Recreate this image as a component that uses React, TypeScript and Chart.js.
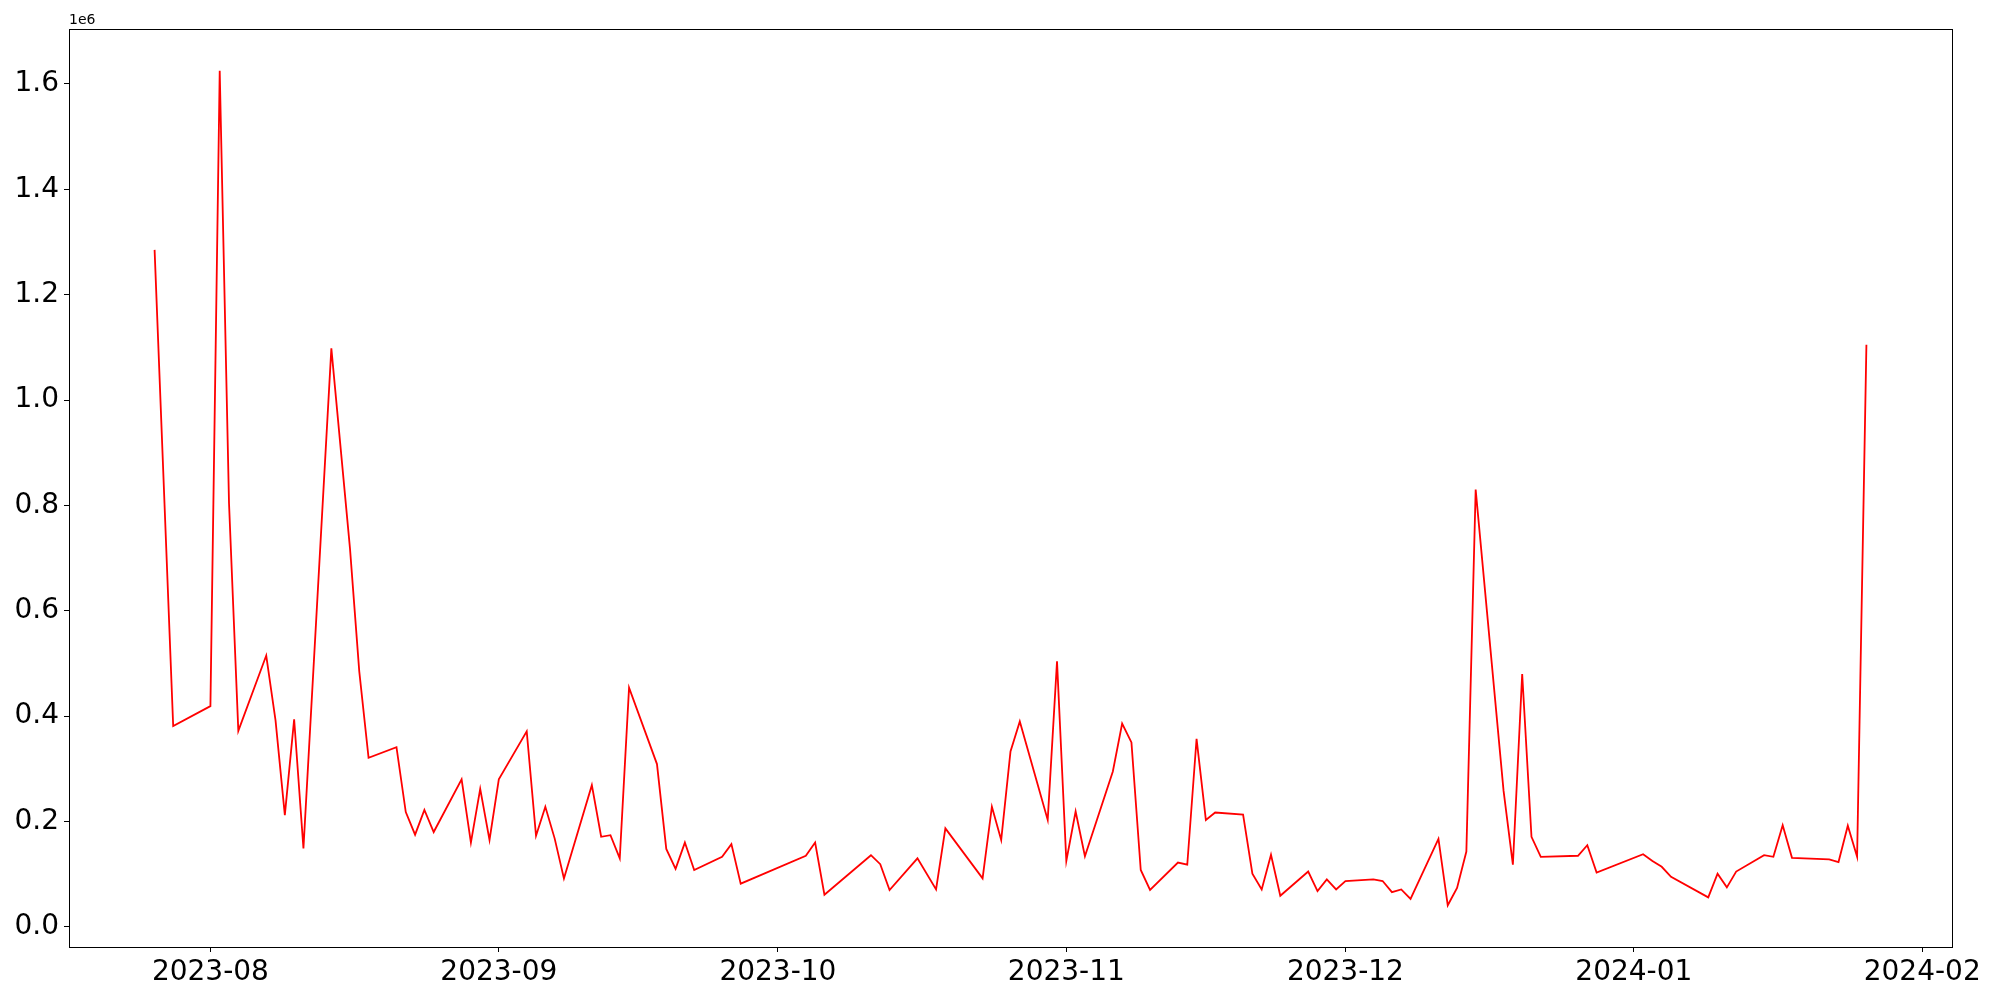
import React, { useEffect, useRef } from "react";
import { Chart, registerables } from "chart.js";

Chart.register(...registerables);

const dates: string[] = [
  "2023-07-26", "2023-07-28", "2023-08-01", "2023-08-02", "2023-08-03", "2023-08-04",
  "2023-08-07", "2023-08-08", "2023-08-09", "2023-08-10", "2023-08-11",
  "2023-08-14", "2023-08-16", "2023-08-17", "2023-08-18",
  "2023-08-21", "2023-08-22", "2023-08-23", "2023-08-24", "2023-08-25",
  "2023-08-28", "2023-08-29", "2023-08-30", "2023-08-31", "2023-09-01",
  "2023-09-04", "2023-09-05", "2023-09-06", "2023-09-07", "2023-09-08",
  "2023-09-11", "2023-09-12", "2023-09-13", "2023-09-14", "2023-09-15",
  "2023-09-18", "2023-09-19", "2023-09-20", "2023-09-21", "2023-09-22",
  "2023-09-25", "2023-09-26", "2023-09-27",
  "2023-10-04", "2023-10-05", "2023-10-06",
  "2023-10-11", "2023-10-12", "2023-10-13",
  "2023-10-16", "2023-10-18", "2023-10-19",
  "2023-10-23", "2023-10-24", "2023-10-25", "2023-10-26", "2023-10-27",
  "2023-10-30", "2023-10-31", "2023-11-01", "2023-11-02", "2023-11-03",
  "2023-11-06", "2023-11-07", "2023-11-08", "2023-11-09", "2023-11-10",
  "2023-11-13", "2023-11-14", "2023-11-15", "2023-11-16", "2023-11-17",
  "2023-11-20", "2023-11-21", "2023-11-22", "2023-11-23", "2023-11-24",
  "2023-11-27", "2023-11-28", "2023-11-29", "2023-11-30", "2023-12-01",
  "2023-12-04", "2023-12-05", "2023-12-06", "2023-12-07", "2023-12-08",
  "2023-12-11", "2023-12-12", "2023-12-13", "2023-12-14", "2023-12-15",
  "2023-12-18", "2023-12-19", "2023-12-20", "2023-12-21", "2023-12-22",
  "2023-12-26", "2023-12-27", "2023-12-28",
  "2024-01-02", "2024-01-03", "2024-01-04", "2024-01-05",
  "2024-01-09", "2024-01-10", "2024-01-11", "2024-01-12",
  "2024-01-15", "2024-01-16", "2024-01-17", "2024-01-18",
  "2024-01-22", "2024-01-23", "2024-01-24", "2024-01-25", "2024-01-26",
];

const values: number[] = [
  1285000, 381000, 419000, 1625000, 804000, 372000,
  515000, 392000, 212000, 394000, 149000,
  1098000, 719000, 485000, 321000,
  341000, 218000, 175000, 222000, 180000,
  280000, 160000, 262000, 165000, 280000,
  371000, 173000, 228000, 168000, 92000,
  269000, 171000, 174000, 130000, 454000,
  309000, 148000, 110000, 160000, 108000,
  133000, 157000, 82000,
  135000, 160000, 61000,
  136000, 119000, 70000,
  130000, 71000, 187000,
  92000, 228000, 165000, 333000, 390000,
  203000, 504000, 125000, 219000, 134000,
  295000, 386000, 350000, 108000, 70000,
  122000, 118000, 357000, 203000, 217000,
  213000, 101000, 71000, 137000, 59000,
  105000, 68000, 90000, 71000, 87000,
  90000, 87000, 66000, 71000, 53000,
  167000, 41000, 74000, 143000, 830000,
  258000, 118000, 480000, 171000, 133000,
  135000, 155000, 103000,
  138000, 125000, 114000, 95000,
  56000, 101000, 75000, 105000,
  136000, 133000, 193000, 131000,
  128000, 123000, 192000, 133000, 1105000,
];

const xTickLabels: string[] = ["2023-08", "2023-09", "2023-10", "2023-11", "2023-12", "2024-01", "2024-02"];
const yTickValues: number[] = [0, 200000, 400000, 600000, 800000, 1000000, 1200000, 1400000, 1600000];

const toTs = (s: string): number => {
  const p = s.split("-").map(Number);
  return Date.UTC(p[0], p[1] - 1, p.length > 2 ? p[2] : 1);
};

export default function App() {
  const ref = useRef<HTMLCanvasElement | null>(null);

  useEffect(() => {
    if (!ref.current) return;
    const pts = dates.map((d, i) => ({ x: toTs(d), y: values[i] }));
    const xs = pts.map((p) => p.x);
    const xmin0 = Math.min(...xs);
    const xmax0 = Math.max(...xs);
    const xm = (xmax0 - xmin0) * 0.05;
    const ymin0 = Math.min(...values);
    const ymax0 = Math.max(...values);
    const ym = (ymax0 - ymin0) * 0.05;

    const framePlugin = {
      id: "frame",
      afterDraw(chart: any) {
        const { ctx, chartArea } = chart;
        ctx.save();
        ctx.strokeStyle = "#000";
        ctx.lineWidth = 1;
        ctx.strokeRect(
          Math.round(chartArea.left) + 0.5,
          Math.round(chartArea.top) + 0.5,
          Math.round(chartArea.right - chartArea.left),
          Math.round(chartArea.bottom - chartArea.top)
        );
        ctx.fillStyle = "#000";
        ctx.font = "14px 'DejaVu Sans'";
        ctx.textAlign = "left";
        ctx.textBaseline = "alphabetic";
        ctx.fillText("1e6", chartArea.left, chartArea.top - 5);
        ctx.restore();
      },
    };

    const chart = new Chart(ref.current, {
      type: "line",
      data: {
        datasets: [
          {
            data: pts,
            borderColor: "#ff0000",
            borderWidth: 1.8,
            pointRadius: 0,
            tension: 0,
            fill: false,
          },
        ],
      },
      options: {
        animation: false,
        responsive: false,
        devicePixelRatio: 1,
        layout: { padding: { top: 29, right: 48, left: 0, bottom: 0 } },
        plugins: { legend: { display: false }, tooltip: { enabled: false } },
        scales: {
          x: {
            type: "linear",
            min: xmin0 - xm,
            max: xmax0 + xm,
            afterFit: (s: any) => {
              s.height = 53;
            },
            afterBuildTicks: (s: any) => {
              s.ticks = xTickLabels.map((l) => ({ value: toTs(l) }));
            },
            grid: {
              display: true,
              drawOnChartArea: false,
              drawTicks: true,
              tickLength: 5,
              color: "#000",
            },
            border: { display: true, color: "#000", width: 1 },
            ticks: {
              color: "#000",
              padding: 4,
              maxRotation: 0,
              autoSkip: false,
              font: { family: "'DejaVu Sans'", size: 28 },
              callback: (v: any) => {
                const d = new Date(Number(v));
                const m = d.getUTCMonth() + 1;
                return `${d.getUTCFullYear()}-${m < 10 ? "0" + m : m}`;
              },
            },
          },
          y: {
            type: "linear",
            min: ymin0 - ym,
            max: ymax0 + ym,
            afterFit: (s: any) => {
              s.width = 69;
            },
            afterBuildTicks: (s: any) => {
              s.ticks = yTickValues.map((v) => ({ value: v }));
            },
            grid: {
              display: true,
              drawOnChartArea: false,
              drawTicks: true,
              tickLength: 5,
              color: "#000",
            },
            border: { display: true, color: "#000", width: 1 },
            ticks: {
              color: "#000",
              padding: 5,
              autoSkip: false,
              font: { family: "'DejaVu Sans'", size: 28 },
              callback: (v: any) => (Number(v) / 1e6).toFixed(1),
            },
          },
        },
      },
      plugins: [framePlugin],
    } as any);

    return () => chart.destroy();
  }, []);

  return (
    <div style={{ position: "fixed", left: 0, top: 0, width: 2000, height: 1000, background: "#fff" }}>
      <canvas ref={ref} width={2000} height={1000} style={{ width: 2000, height: 1000 }} />
    </div>
  );
}
